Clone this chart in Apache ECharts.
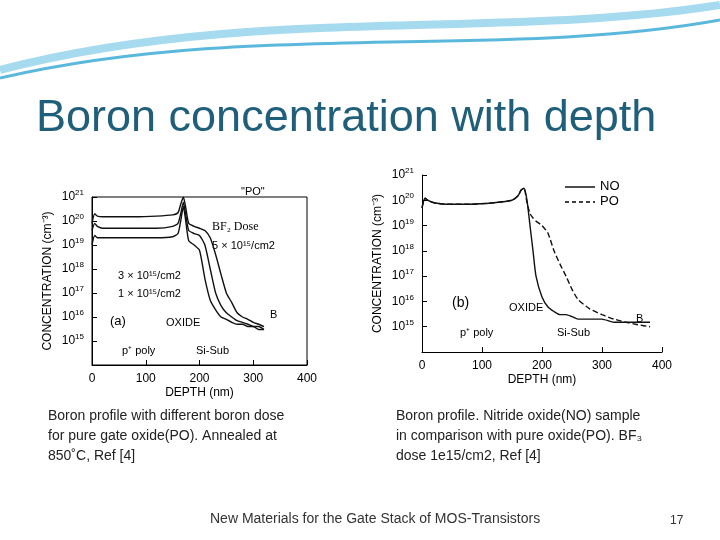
<!DOCTYPE html>
<html><head><meta charset="utf-8">
<script src="https://cdn.jsdelivr.net/npm/echarts@6/dist/echarts.min.js"></script>
<style>html,body{margin:0;padding:0;background:#fff}#c{width:720px;height:540px}</style>
</head><body><div id="c"></div>
<script>
// Left plot (a): depth (nm) vs concentration, three BF2 doses
const depthA = [0,5,10,20,40,80,120,150,160,165,170,175,180,190,200,210,220,230,240,250,260,270,280,290,300,310,320];
const dose5e15 = [8e19,2e20,1.6e20,1.5e20,1.5e20,1.5e20,1.6e20,1.8e20,2.2e20,5e20,1e21,3e20,8e19,6e19,5e19,4e19,2e19,4e18,6e17,1e17,4e16,1.5e16,1e16,8e15,6e15,5e15,4e15];
const dose3e15 = [4e19,8e19,6e19,5e19,5e19,5e19,5e19,6e19,8e19,2e20,6e20,1.5e20,4e19,3e19,2.5e19,1e19,1e18,1e17,3e16,1.5e16,1e16,7e15,6e15,5e15,4e15,4e15,3e15];
const dose1e15 = [1e19,2.5e19,2e19,2e19,2e19,2e19,2e19,2.2e19,3e19,1e20,4e20,8e19,1.5e19,1e19,6e18,4e17,5e16,2e16,1e16,8e15,6e15,5e15,5e15,4e15,4e15,3e15,3e15];
// Right plot (b): NO vs PO
const depthB = [0,5,10,20,40,80,120,150,160,165,170,175,180,185,190,200,210,220,230,240,250,260,280,300,320,340,360,380];
const seriesNO = [5e19,1.2e20,1e20,8e19,7e19,7e19,8e19,1e20,1.5e20,2.5e20,3e20,1e20,1e19,1e18,1e17,1.5e16,6e15,4e15,3e15,3e15,2.5e15,2e15,2e15,2e15,1.5e15,1.5e15,1.5e15,1.5e15];
const seriesPO = [5e19,1.2e20,1e20,8e19,7e19,7e19,8e19,1e20,1.5e20,2.5e20,3e20,8e19,3e19,2e19,1.5e19,1e19,5e18,1e18,3e17,1e17,3e16,1.2e16,5e15,3e15,2e15,1.5e15,1.2e15,1e15];
const xTicks = [0,100,200,300,400];

const zip = (xs, ys) => xs.map((x, i) => [x, ys[i]]);
const supFmt = v => { const e = Math.round(Math.log10(v)); return e < 15 ? '' : '10{s|' + e + '}'; };
const axLbl = {fontFamily:'Liberation Sans',fontSize:12,color:'#000',formatter:supFmt,rich:{s:{fontSize:8,verticalAlign:'top',padding:[0,0,8,0]}}};
function yAx(i, min){return {type:'log',gridIndex:i,min:min,max:1e21,logBase:10,
  axisLine:{show:true,lineStyle:{color:'#000'}},axisTick:{inside:true,lineStyle:{color:'#000'}},splitLine:{show:false},
  axisLabel:axLbl,name:'CONCENTRATION (cm⁻³)',nameLocation:'middle',nameGap:38,
  nameTextStyle:{fontFamily:'Liberation Sans',fontSize:12,color:'#000'}};}
function xAx(i){return {type:'value',gridIndex:i,min:0,max:400,interval:100,
  axisLine:{lineStyle:{color:'#000'}},axisTick:{inside:true,lineStyle:{color:'#000'}},splitLine:{show:false},
  axisLabel:{fontFamily:'Liberation Sans',fontSize:12,color:'#000'},name:'DEPTH (nm)',nameLocation:'middle',nameGap:22,
  nameTextStyle:{fontFamily:'Liberation Sans',fontSize:12,color:'#000'}};}
const ln = (xi, data, type) => ({type:'line',xAxisIndex:xi,yAxisIndex:xi,data:data,showSymbol:false,smooth:0.2,
  lineStyle:{color:'#111',width:1.4,type:type||'solid'}});
const txt = (x,y,t,o) => Object.assign({type:'text',left:x,top:y,style:Object.assign({text:t,fontFamily:'Liberation Sans',fontSize:11,fill:'#000'},o||{})});

const chart = echarts.init(document.getElementById('c'));
chart.setOption({
  animation:false,
  grid:[{left:92,top:197,width:215,height:168,show:true,borderColor:'#000'},{left:422,top:175,width:240,height:177}],
  xAxis:[xAx(0),xAx(1)],
  yAxis:[yAx(0,1e14),yAx(1,1e14)],
  series:[ln(0,zip(depthA,dose5e15)),ln(0,zip(depthA,dose3e15)),ln(0,zip(depthA,dose1e15)),
    ln(1,zip(depthB,seriesNO)),ln(1,zip(depthB,seriesPO),'dashed')],
  graphic:[
    {type:'bezierCurve',shape:{x1:0,y1:78,x2:720,y2:20,cpx1:250,cpy1:20,cpx2:500,cpy2:60},style:{stroke:'#5bb8dd',lineWidth:3}},
    {type:'bezierCurve',shape:{x1:0,y1:70,x2:720,y2:5,cpx1:250,cpy1:5,cpx2:500,cpy2:40},style:{stroke:'#a6daee',lineWidth:8}},
    txt(36,96,'Boron concentration with depth',{fontSize:45,fill:'#1f5f7a'}),
    txt(241,186,'"PO"',{fontSize:11}),
    txt(212,221,'BF₂ Dose',{fontFamily:'Liberation Serif',fontSize:12}),
    txt(212,240,'5 × 10¹⁵/cm2'),
    txt(118,270,'3 × 10¹⁵/cm2'),
    txt(118,288,'1 × 10¹⁵/cm2'),
    txt(110,315,'(a)',{fontSize:13}),
    txt(166,317,'OXIDE'),
    txt(122,345,'p⁺ poly'),
    txt(196,345,'Si-Sub'),
    txt(270,309,'B'),
    txt(600,180,'NO',{fontSize:13}),
    txt(600,195,'PO',{fontSize:13}),
    {type:'line',shape:{x1:565,y1:187,x2:595,y2:187},style:{stroke:'#000',lineWidth:1.4}},
    {type:'line',shape:{x1:565,y1:202,x2:595,y2:202},style:{stroke:'#000',lineWidth:1.4,lineDash:[4,3]}},
    txt(452,296,'(b)',{fontSize:14}),
    txt(509,302,'OXIDE'),
    txt(460,327,'p⁺ poly'),
    txt(557,327,'Si-Sub'),
    txt(636,313,'B'),
    txt(48,406,'Boron profile with different boron dose\nfor pure gate oxide(PO). Annealed at\n850˚C, Ref [4]',{fontSize:14,lineHeight:20,fill:'#222'}),
    txt(396,406,'Boron profile. Nitride oxide(NO) sample\nin comparison with pure oxide(PO). BF₃\ndose 1e15/cm2, Ref [4]',{fontSize:14,lineHeight:20,fill:'#222'}),
    txt(210,512,'New Materials for the Gate Stack of MOS-Transistors',{fontSize:14,fill:'#333'}),
    txt(670,515,'17',{fontSize:12,fill:'#333'})
  ]
});
</script></body></html>
